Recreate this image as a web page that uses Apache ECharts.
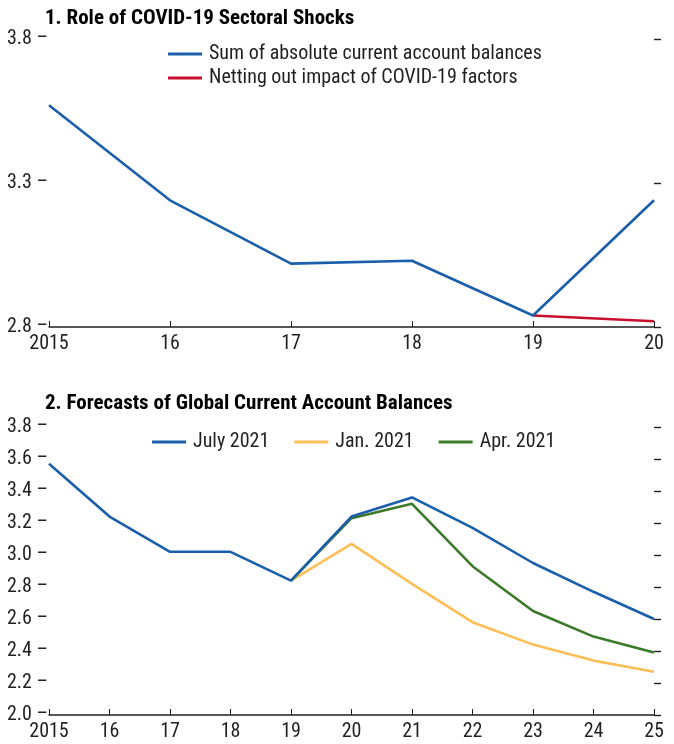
<!DOCTYPE html>
<html>
<head>
<meta charset="utf-8">
<script src="https://cdn.jsdelivr.net/npm/echarts@6/dist/echarts.min.js"></script>
<style>
  html, body { margin: 0; padding: 0; background: #fff; }
  #chart { width: 674px; height: 744px; }
</style>
</head>
<body>
<div id="chart"></div>
<script>
// Panel 1 — role of COVID-19 sectoral shocks
const years1 = ['2015', '16', '17', '18', '19', '20'];
const sumAbsCA = [3.57, 3.24, 3.02, 3.03, 2.84, 3.24];
const nettingCovid = [null, null, null, null, 2.84, 2.82];

// Panel 2 — forecast vintages of global current account balances
const years2 = ['2015', '16', '17', '18', '19', '20', '21', '22', '23', '24', '25'];
const july2021 = [3.57, 3.24, 3.02, 3.02, 2.84, 3.24, 3.36, 3.17, 2.95, 2.77, 2.60];
const jan2021 = [null, null, null, null, 2.84, 3.07, 2.82, 2.58, 2.44, 2.34, 2.27];
const apr2021 = [null, null, null, null, 2.84, 3.23, 3.32, 2.93, 2.65, 2.49, 2.39];

const FONT = "'Liberation Sans Narrow', 'Arial Narrow', 'Roboto Condensed', sans-serif";
const INK = '#231f20';
const BLUE = '#1b5faa';
const RED = '#c8102e';
const GOLD = '#fdbe57';
const GREEN = '#3c7a2a';

const txt = { fontFamily: FONT, fontSize: 20, color: INK };
const titleTxt = { fontFamily: FONT, fontSize: 21, fontWeight: 'bold', color: '#000' };

function xAxis(gridIndex, data) {
  return {
    type: 'category', gridIndex, data, boundaryGap: false,
    axisLine: { lineStyle: { color: INK, width: 1.5 } },
    axisTick: { show: true, inside: true, length: 6, lineStyle: { color: INK, width: 1 } },
    axisLabel: { ...txt, margin: 7, interval: 0 },
    splitLine: { show: false },
  };
}

// left axis: label plus its dash in the text; right axis: tick dashes only
function yAxes(gridIndex, min, max, interval) {
  const base = {
    type: 'value', gridIndex, min, max, interval, offset: 0,
    axisLine: { show: true, lineStyle: { color: 'rgba(0,0,0,0)' } },
    splitLine: { show: false },
    axisTick: { show: true, length: 7, lineStyle: { color: INK, width: 1.4 } },
    axisLabel: { show: false },
  };
  return [
    { ...base, position: 'left', axisTick: { show: false },
      axisLabel: { ...txt, margin: 1, formatter: v => v.toFixed(1) + ' –' } },
    { ...base, position: 'right' },
  ];
}

function line(name, xi, yi, data, color, z) {
  return {
    name, type: 'line', xAxisIndex: xi, yAxisIndex: yi, data, z,
    showSymbol: false, symbol: 'none', connectNulls: false,
    lineStyle: { color, width: 2.6 }, itemStyle: { color },
  };
}

const chart = echarts.init(document.getElementById('chart'));
chart.setOption({
  animation: false,
  textStyle: { fontFamily: FONT },
  title: [
    { text: '1. Role of COVID-19 Sectoral Shocks', left: 40, top: 3, textStyle: titleTxt },
    { text: '2. Forecasts of Global Current Account Balances', left: 40, top: 388, textStyle: titleTxt },
  ],
  legend: [
    { data: ['Sum of absolute current account balances', 'Netting out impact of COVID-19 factors'],
      orient: 'vertical', left: 163, top: 39, itemGap: 4,
      icon: 'rect', itemWidth: 34, itemHeight: 3,
      textStyle: { ...txt, padding: [0, 0, 0, 2] } },
    { data: ['July 2021', 'Jan. 2021', 'Apr. 2021'],
      orient: 'horizontal', left: 147, top: 427, itemGap: 25,
      icon: 'rect', itemWidth: 34, itemHeight: 3,
      textStyle: { ...txt, padding: [0, 0, 0, 2] } },
  ],
  grid: [
    { left: 49, right: 20, top: 39, bottom: 417, containLabel: false, outerBoundsMode: 'none' },
    { left: 49, right: 20, top: 427, bottom: 29, containLabel: false, outerBoundsMode: 'none' },
  ],
  xAxis: [xAxis(0, years1), xAxis(1, years2)],
  yAxis: [...yAxes(0, 2.8, 3.8, 0.5), ...yAxes(1, 2.0, 3.8, 0.2)],
  series: [
    line('Netting out impact of COVID-19 factors', 0, 0, nettingCovid, RED, 2),
    line('Sum of absolute current account balances', 0, 0, sumAbsCA, BLUE, 3),
    line('Jan. 2021', 1, 2, jan2021, GOLD, 2),
    line('Apr. 2021', 1, 2, apr2021, GREEN, 3),
    line('July 2021', 1, 2, july2021, BLUE, 4),
  ],
});
</script>
</body>
</html>
